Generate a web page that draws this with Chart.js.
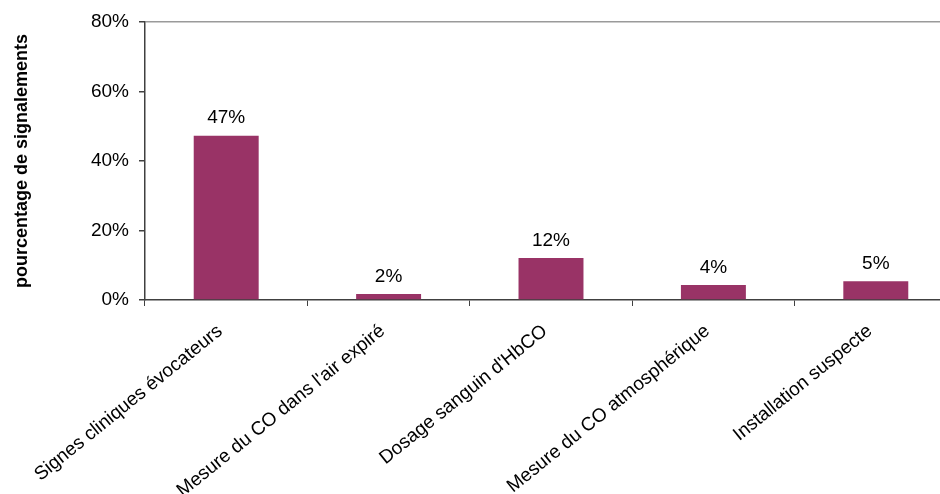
<!DOCTYPE html>
<html>
<head>
<meta charset="utf-8">
<script src="https://cdn.jsdelivr.net/npm/chart.js@4.4.0/dist/chart.umd.min.js"></script>
<style>
  html, body { margin: 0; padding: 0; background: #fff; overflow: hidden; }
  #wrap { position: relative; width: 957px; height: 494px; }
</style>
</head>
<body>
<div id="wrap"><canvas id="chart"></canvas></div>
<script>
// valeurs
const categories = [
    "Signes cliniques évocateurs",
    "Mesure du CO dans l'air expiré",
    "Dosage sanguin d'HbCO",
    "Mesure du CO atmosphérique",
    "Installation suspecte"
];
const values = [47.3, 1.7, 12.1, 4.3, 5.4];
const valueLabels = ["47%", "2%", "12%", "4%", "5%"];
const yTicks = [0, 20, 40, 60, 80];

const FONT = "'Liberation Sans', Arial, sans-serif";

// petit plugin pour écrire les pourcentages au-dessus des barres
const barLabels = {
    id: 'barLabels',
    afterDatasetsDraw(chart) {
        const ctx = chart.ctx;
        const meta = chart.getDatasetMeta(0);
        ctx.save();
        ctx.font = "19px " + FONT;
        ctx.fillStyle = "#000";
        ctx.textAlign = "center";
        ctx.textBaseline = "bottom";
        meta.data.forEach(function(bar, i) {
            ctx.fillText(valueLabels[i], bar.x, bar.y - 8);
        });
        ctx.restore();
    }
};

document.addEventListener("DOMContentLoaded", function() {
    const ctx = document.getElementById('chart');

    new Chart(ctx, {
        type: 'bar',
        data: {
            labels: categories,
            datasets: [{
                data: values,
                backgroundColor: '#993366',
                borderWidth: 0,
                barPercentage: 0.8,
                categoryPercentage: 0.5
            }]
        },
        options: {
            responsive: true,
            maintainAspectRatio: false,
            animation: false,
            layout: { padding: { top: 22, left: 0, right: 0, bottom: 0 } },
            plugins: {
                legend: { display: false },
                tooltip: { enabled: false }
            },
            scales: {
                x: {
                    grid: {
                        offset: true,
                        drawOnChartArea: false,
                        drawTicks: true,
                        tickLength: 6,
                        tickColor: '#404040'
                    },
                    border: { color: '#404040', width: 1.5 },
                    ticks: {
                        color: '#000',
                        font: { family: FONT, size: 19 },
                        minRotation: 39,
                        maxRotation: 39,
                        padding: 14,
                        labelOffset: -6
                    },
                    afterFit: function(scale) { scale.height = 194; }
                },
                y: {
                    min: 0,
                    max: 80,
                    afterBuildTicks: function(scale) {
                        scale.ticks = yTicks.map(function(v) { return { value: v }; });
                    },
                    grid: {
                        drawTicks: true,
                        tickLength: 6,
                        tickColor: '#404040',
                        color: function(c) { return c.tick && c.tick.value === 80 ? '#9a9a9a' : 'rgba(0,0,0,0)'; },
                        lineWidth: 1.5
                    },
                    border: { color: '#404040', width: 1.5 },
                    ticks: {
                        color: '#000',
                        font: { family: FONT, size: 19 },
                        padding: 10,
                        callback: function(v) { return v + '%'; }
                    },
                    title: {
                        display: true,
                        text: 'pourcentage de signalements',
                        color: '#000',
                        font: { family: FONT, size: 18, weight: 'bold' },
                        padding: { top: 11, bottom: 0 }
                    },
                    afterFit: function(scale) { scale.width = 145; }
                }
            }
        },
        plugins: [barLabels]
    });
});
</script>
</body>
</html>
